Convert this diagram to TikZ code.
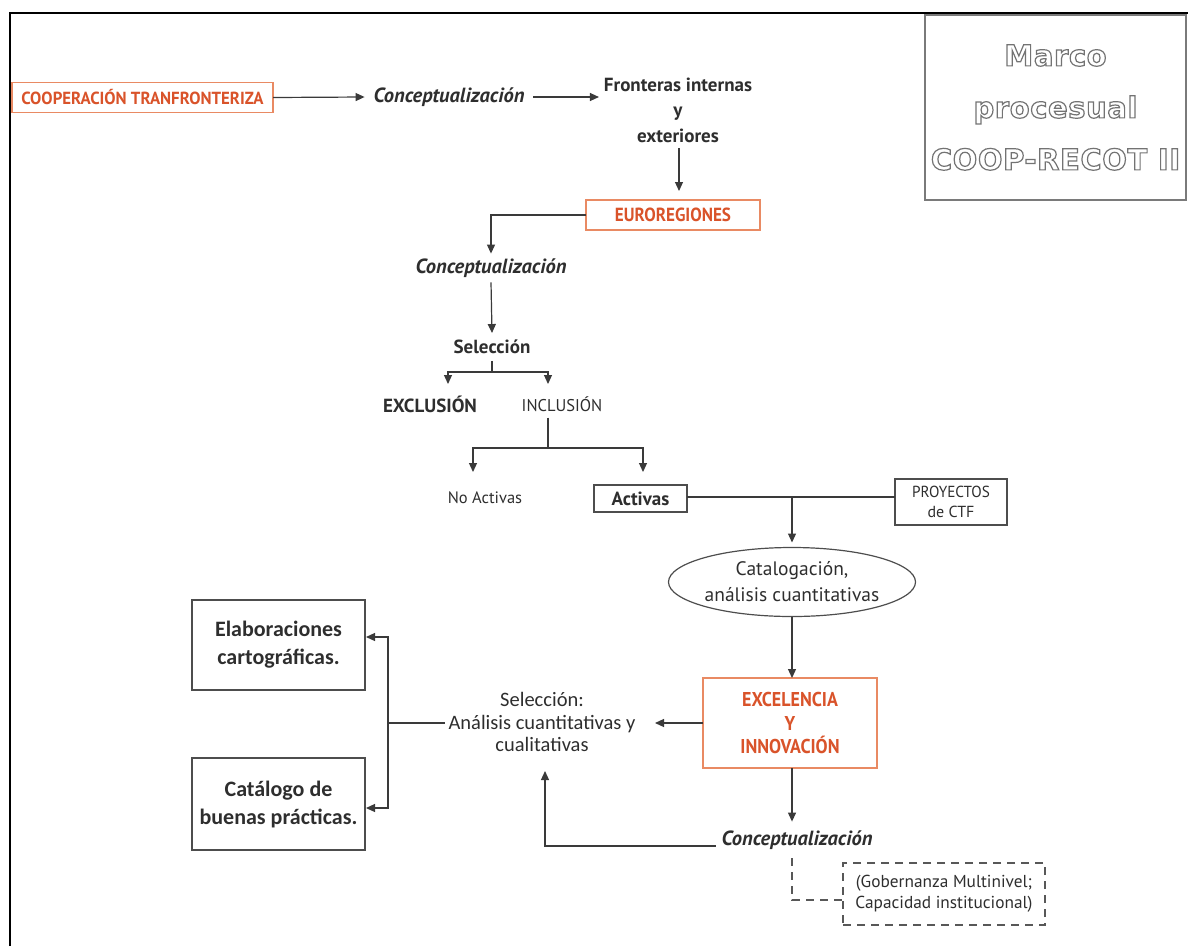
\documentclass[tikz,border=0pt]{standalone}
\usepackage{fontspec}
\setmainfont{PT Sans}
\newfontfamily\calib{Carlito}
\newfontfamily\ttlfont[LetterSpace=2]{DejaVu Sans}
\usepackage{graphicx}
\usetikzlibrary{arrows.meta,shapes.geometric}
\definecolor{orbrd}{HTML}{E98A63}
\definecolor{ortxt}{HTML}{D9532A}
\definecolor{ink}{HTML}{2E2E2E}
\definecolor{ln}{HTML}{3A3A3A}
\definecolor{ttl}{HTML}{7A7A7A}
\newcommand\fs[2]{\fontsize{#1}{#2}\selectfont}
\newcommand\cond[1]{\scalebox{0.9}[1]{#1}}
\newcommand\outl[1]{\special{pdf:code q 1 Tr 1.2 w 0.45 G}#1\special{pdf:code Q}}
\begin{document}
\begin{tikzpicture}[x=1pt,y=-1pt,
  every node/.style={inner sep=0pt,outer sep=0pt,text=ink},
  conn/.style={draw=ln,line width=1.2pt},
  arr/.style={conn,-{Triangle[length=9pt,width=8pt]}},
  obox/.style={draw=orbrd,line width=1.3pt,text=ortxt,font=\bfseries,align=center},
  gbox/.style={draw=ink!85,line width=1.2pt,align=center},
  lbl/.style={align=center},
  conc/.style={font=\bfseries\itshape\fs{20.5}{24}},
  dsh/.style={draw=ink!80,line width=1.2pt,dash pattern=on 8pt off 6pt},
  ttxt/.style={align=center,font=\ttlfont\bfseries\fs{29}{52}}
]
\useasboundingbox (0,0) rectangle (1188,946);
\draw[line width=2.5pt] (10,946) -- (10,13) -- (1188,13);

% title box with outlined text
\node[draw=ttl,line width=1.5pt,minimum width=261pt,minimum height=185pt,ttxt,text=ttl] (title) at (1055.5,107.5)
  {\outl{Marco}\\\outl{procesual}\\\outl{COOP-RECOT II}};

% top row
\node[obox,minimum width=261pt,minimum height=30pt,font=\bfseries\fs{17.5}{20}] (coop) at (142.5,97.5)
  {\scalebox{0.96}[1]{COOPERACIÓN TRANFRONTERIZA}};
\node[conc,inner xsep=9pt] (conc1) at (449,97) {Conceptualización};
\node[lbl,font=\bfseries\fs{19}{25.5},inner xsep=5pt] (fr) at (678,110)
  {Fronteras internas\\y\\exteriores};
\draw[arr] (coop.east) -- (conc1.west);
\draw[arr] (conc1.east) -- (fr.west |- conc1.east);

\node[obox,minimum width=174pt,minimum height=30pt,font=\bfseries\fs{19}{22}] (euro) at (673,215)
  {\cond{EUROREGIONES}};
\coordinate (frb) at (679,148);
\draw[arr,shorten >=9pt] (frb) -- (euro.north -| frb);

\node[conc,inner ysep=5pt] (conc2) at (491,268) {Conceptualización};
\draw[arr] (euro.west) -| (conc2.north);

\node[font=\bfseries\fs{19}{22},inner ysep=7pt] (sel) at (492,347) {Selección};
\draw[arr] (conc2.south) -- (sel.north);

\node[font=\bfseries\fs{19}{22}] (excl) at (430,404) {EXCLUSIÓN};
\node[font=\fs{17}{20},inner ysep=6pt] (incl) at (562,404) {\scalebox{0.97}[1]{INCLUSIÓN}};
\coordinate (sj) at (492,372);
\coordinate (exTip) at (448,384);
\coordinate (inTip) at (548,384);
\draw[conn] (sel.south) -- (sj);
\draw[arr] (sj) -| (exTip);
\draw[arr] (sj) -| (inTip);

\node[font=\fs{16.5}{19}] (noact) at (485,498) {No Activas};
\node[gbox,minimum width=93pt,minimum height=27pt,font=\bfseries\fs{19}{22}] (act) at (640.5,498.5) {Activas};
\coordinate (ij) at (548,448);
\coordinate (naTip) at (473,472);
\coordinate (acTip) at (643,472);
\draw[conn] (incl.south -| ij) -- (ij);
\draw[arr] (ij) -| (naTip);
\draw[arr] (ij) -| (acTip);

\node[gbox,minimum width=112pt,minimum height=46pt,font=\fs{16}{20}] (proy) at (951,502) {\scalebox{0.95}[1]{PROYECTOS}\\de CTF};
\draw[conn] (act.east |- 0,497) -- (proy.west |- 0,497);

\node[ellipse,draw=ink!85,line width=1.2pt,minimum width=223pt,minimum height=69pt,align=center,
      font=\fs{19.5}{26}] (cat) at (792,582) {Catalogación,\\análisis cuantitativas};
\coordinate (aj) at (792,497);
\draw[arr,shorten >=5pt] (aj) -- (cat.north);

\node[obox,minimum width=174pt,minimum height=90pt,font=\bfseries\fs{20}{23.5}] (exc) at (790,723)
  {\cond{EXCELENCIA}\\\cond{Y}\\\cond{INNOVACIÓN}};
\draw[arr] (cat.south -| aj) -- (exc.north -| aj);

\node[lbl,font=\calib\fs{20.5}{22.5},inner xsep=4pt] (sel2) at (542,722)
  {Selección:\\Análisis cuantitativas y\\cualitativas};
\coordinate (exTip2) at (655,723);
\draw[arr] (exc.west |- exTip2) -- (exTip2);

\node[gbox,minimum width=173pt,minimum height=90pt,font=\calib\bfseries\fs{22}{28}] (elab) at (278.5,645)
  {Elaboraciones\\cartográficas.};
\node[gbox,minimum width=173pt,minimum height=92pt,font=\calib\bfseries\fs{22}{28}] (catal) at (278.5,804)
  {Catálogo de\\buenas prácticas.};
\coordinate (bj) at (388,723);
\coordinate (elTip) at (366,637);
\coordinate (caTip) at (366,808);
\draw[conn] (sel2.west |- bj) -- (bj);
\draw[arr] (bj) |- (elTip);
\draw[arr] (bj) |- (caTip);

\node[conc,inner xsep=6pt,inner ysep=8pt] (conc3) at (797,840) {Conceptualización};
\coordinate (eb) at (792,768);
\draw[arr,shorten >=1pt] (eb) -- (conc3.north -| eb);
\coordinate (c3l) at (conc3.west |- 0,846);
\coordinate (upTip) at (545,771);
\draw[arr] (c3l) -| (upTip);

\node[draw=ink!80,line width=1.2pt,dash pattern=on 8pt off 6pt,minimum width=202pt,minimum height=62pt,
      align=center,font=\fs{17.3}{21}] (gob) at (944,894)
  {(Gobernanza Multinivel;\\Capacidad institucional)};
\coordinate (dtop) at (792,858);
\draw[dsh] (dtop) |- (gob.west |- 0,900);
\end{tikzpicture}
\end{document}
